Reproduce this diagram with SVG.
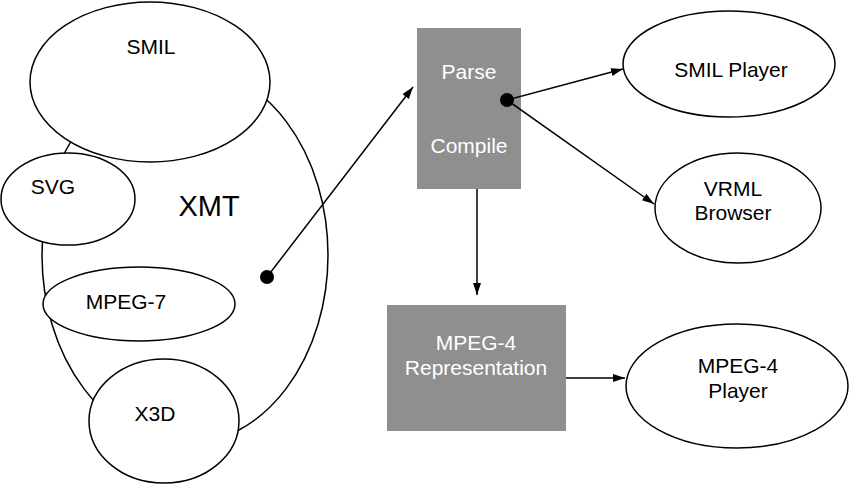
<svg xmlns="http://www.w3.org/2000/svg" width="850" height="485" viewBox="0 0 850 485">
<defs>
<marker id="arr" viewBox="0 0 12 8" refX="12" refY="4" markerWidth="12" markerHeight="8" markerUnits="userSpaceOnUse" orient="auto">
<path d="M0,0 L12,4 L0,8 Z" fill="#000"/>
</marker>
</defs>
<style>
.e{fill:#fff;stroke:#000;stroke-width:1.5}
.b{fill:#8f8f8f}
.t{font-family:"Liberation Sans",Arial,sans-serif;font-size:21px;fill:#000;text-anchor:middle}
.w{font-family:"Liberation Sans",Arial,sans-serif;font-size:21px;fill:#fff;text-anchor:middle}
.c{fill:none;stroke:#000;stroke-width:1.5}
</style>
<rect width="850" height="485" fill="#fff"/>
<g id="xmt">
<ellipse class="e" cx="185" cy="255" rx="143" ry="189"/>
<text class="t" x="209" y="216" style="font-size:29px">XMT</text>
</g>
<g id="smil">
<ellipse class="e" cx="150" cy="82" rx="120" ry="80"/>
<text class="t" x="151" y="54">SMIL</text>
</g>
<g id="svg">
<ellipse class="e" cx="68" cy="199" rx="67" ry="46"/>
<text class="t" x="53" y="194">SVG</text>
</g>
<g id="mpeg7">
<ellipse class="e" cx="139" cy="304" rx="96" ry="37"/>
<text class="t" x="126" y="309">MPEG-7</text>
</g>
<g id="x3d">
<ellipse class="e" cx="164" cy="421" rx="75" ry="62"/>
<text class="t" x="155" y="421">X3D</text>
</g>
<g id="parse">
<rect class="b" x="417" y="28" width="104" height="161"/>
<text class="w" x="469" y="79">Parse</text>
<text class="w" x="469" y="153">Compile</text>
</g>
<g id="mpeg4rep">
<rect class="b" x="387" y="305" width="179" height="126"/>
<text class="w" x="476" y="350">MPEG-4</text>
<text class="w" x="476" y="375">Representation</text>
</g>
<g id="smilplayer">
<ellipse class="e" cx="729" cy="64" rx="106" ry="53"/>
<text class="t" x="731" y="77">SMIL Player</text>
</g>
<g id="vrml">
<ellipse class="e" cx="738" cy="208" rx="83" ry="55"/>
<text class="t" x="733" y="196">VRML</text>
<text class="t" x="733" y="220">Browser</text>
</g>
<g id="mpeg4player">
<ellipse class="e" cx="737" cy="386" rx="111" ry="62"/>
<text class="t" x="738" y="373">MPEG-4</text>
<text class="t" x="738" y="398">Player</text>
</g>
<g id="connectors">
<circle cx="267" cy="277" r="7" fill="#000"/>
<line class="c" x1="267" y1="277" x2="413" y2="87" marker-end="url(#arr)"/>
<circle cx="507" cy="100" r="7" fill="#000"/>
<line class="c" x1="507" y1="100" x2="623" y2="69" marker-end="url(#arr)"/>
<line class="c" x1="507" y1="100" x2="654" y2="204" marker-end="url(#arr)"/>
<line class="c" x1="477" y1="189" x2="477" y2="295" marker-end="url(#arr)"/>
<line class="c" x1="566" y1="378" x2="625" y2="378" marker-end="url(#arr)"/>
</g>
</svg>
